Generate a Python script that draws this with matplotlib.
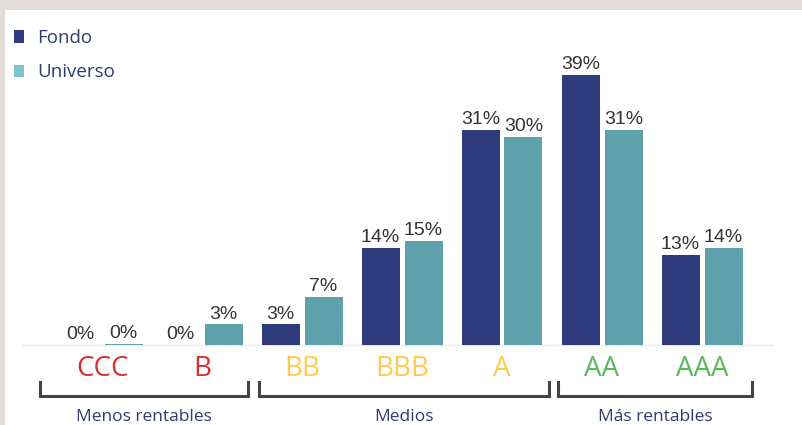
import matplotlib.pyplot as plt
from matplotlib.patches import Patch, Rectangle

# data
categories = ['CCC', 'B', 'BB', 'BBB', 'A', 'AA', 'AAA']
fondo = [0, 0, 3, 14, 31, 39, 13]
universo = [0.2, 3, 7, 15, 30, 31, 14]
cat_colors = ['#d8302f', '#d8302f', '#fecb52', '#fecb52', '#fecb52',
              '#5bb85d', '#5bb85d']
groups = ['Menos rentables', 'Medios', 'Más rentables']
group_spans = [(0, 1), (2, 4), (5, 6)]
# bracket overhang beyond the first/last category of each group
group_pad = [(0.62, 0.46), (0.43, 0.47), (0.44, 0.50)]

NAVY = '#2e3c7e'
TEAL = '#5fa2ad'
TEXT = '#2c3d6e'
UI_FONT = ['Open Sans', 'DejaVu Sans']
NUM_FONT = ['Liberation Sans', 'DejaVu Sans']

fig = plt.figure(figsize=(8.02, 4.25), dpi=100)
fig.patch.set_facecolor('#e2ddd9')
fig.add_artist(Rectangle((5 / 802, 0), 1, 415 / 425, transform=fig.transFigure,
                         facecolor='white', edgecolor='none', zorder=0))

ax = fig.add_axes([0, 0, 1, 1])
ax.set_facecolor('none')
ax.set_xlim(-1.02, 7.0)
ax.set_ylim(-11.54, 49.78)
ax.axis('off')

x = list(range(len(categories)))
w = 0.38
off = 0.215
xf = [i - off for i in x]
xu = [i + off for i in x]
ax.bar(xf, fondo, width=w, color=NAVY, zorder=3)
ax.bar(xu, universo, width=w, color=TEAL, zorder=3)

# baseline
ax.plot([-0.8, 6.71], [0, 0], color='#ececec', lw=1, zorder=2)

for xs, vals in ((xf, fondo), (xu, universo)):
    for xi, v in zip(xs, vals):
        ax.annotate(f'{round(v)}%', (xi, v), xytext=(0, 1.2),
                    textcoords='offset points', ha='center', va='bottom',
                    fontsize=14, color='#333333', family=NUM_FONT)

# rating labels
for i, (c, col) in enumerate(zip(categories, cat_colors)):
    ax.text(i, -3.45, c, ha='center', va='center', fontsize=20,
            color=col, family=UI_FONT)

# brackets + group names
for name, (a, b), (pl, pr) in zip(groups, group_spans, group_pad):
    x0, x1 = a - pl, b + pr
    ax.plot([x0, x0, x1, x1], [-5.3, -7.35, -7.35, -5.3],
            color='#454545', lw=2.2, solid_joinstyle='miter', zorder=3)
    ax.text((x0 + x1) / 2, -10.4, name, ha='center', va='center',
            fontsize=12.5, color=TEXT, family=UI_FONT)

handles = [Patch(facecolor=NAVY, edgecolor='none'),
           Patch(facecolor='#7fc3cd', edgecolor='none')]
leg = ax.legend(handles, ['Fondo', 'Universo'], loc='upper left',
                bbox_to_anchor=(0.0175, 0.932), frameon=False,
                borderpad=0, borderaxespad=0,
                handlelength=0.55, handleheight=0.65, handletextpad=0.7,
                labelspacing=0.88, prop={'family': UI_FONT, 'size': 13.5})
for t in leg.get_texts():
    t.set_color(TEXT)

fig.savefig('out.png', dpi=100)
